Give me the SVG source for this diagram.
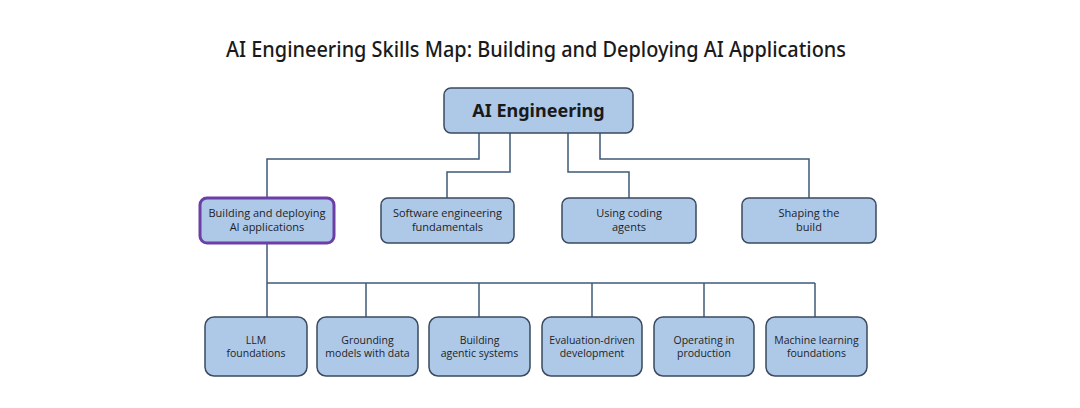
<svg xmlns="http://www.w3.org/2000/svg" width="1080" height="408" viewBox="0 0 1080 408">
<style>
.box{fill:#aec8e8;stroke:#3b4a5e;stroke-width:1.5}
.sel{fill:#aec8e8;stroke:#6b3fa6;stroke-width:3}
.t{font-family:"Open Sans","Noto Sans",sans-serif;font-size:11px;fill:#1f1f1f;text-anchor:middle}
.s{font-family:"Open Sans","Noto Sans",sans-serif;font-size:10.5px;fill:#1f1f1f;text-anchor:middle}
.c{fill:none;stroke:#3e5a78;stroke-width:1.5}
</style>
<rect width="1080" height="408" fill="#ffffff"/>
<text x="536" y="57" font-family="'Noto Sans',sans-serif" font-weight="500" font-size="21" fill="#1a1a1a" text-anchor="middle" textLength="620" lengthAdjust="spacingAndGlyphs">AI Engineering Skills Map: Building and Deploying AI Applications</text>
<g id="connectors">
<path class="c" d="M479 133V159H267V198"/>
<path class="c" d="M510 133V172H447V198"/>
<path class="c" d="M568 133V172H629V198"/>
<path class="c" d="M600 133V159H809V198"/>
<path class="c" d="M267 243V317"/>
<path class="c" d="M267 283H815"/>
<path class="c" d="M366 283V317"/>
<path class="c" d="M479 283V317"/>
<path class="c" d="M592 283V317"/>
<path class="c" d="M704 283V317"/>
<path class="c" d="M815 283V317"/>
</g>
<g id="ai-engineering">
<rect class="box" x="444" y="88" width="189" height="45" rx="7"/>
<text x="538.5" y="117" font-family="'Noto Sans',sans-serif" font-weight="bold" font-size="18" fill="#1a1a1a" text-anchor="middle">AI Engineering</text>
</g>
<g id="building-deploying">
<rect class="sel" x="200" y="198" width="134" height="45" rx="7"/>
<text class="t" x="267" y="217">Building and deploying</text>
<text class="t" x="267" y="231">AI applications</text>
</g>
<g id="software-eng">
<rect class="box" x="381" y="198" width="133" height="45" rx="7"/>
<text class="t" x="447.5" y="217">Software engineering</text>
<text class="t" x="447.5" y="231">fundamentals</text>
</g>
<g id="coding-agents">
<rect class="box" x="562" y="198" width="134" height="45" rx="7"/>
<text class="t" x="629" y="217">Using coding</text>
<text class="t" x="629" y="231">agents</text>
</g>
<g id="shaping">
<rect class="box" x="742" y="198" width="134" height="45" rx="7"/>
<text class="t" x="809" y="217">Shaping the</text>
<text class="t" x="809" y="231">build</text>
</g>
<g id="llm">
<rect class="box" x="205" y="317" width="102" height="59" rx="9"/>
<text class="s" x="256" y="344">LLM</text>
<text class="s" x="256" y="357">foundations</text>
</g>
<g id="grounding">
<rect class="box" x="317" y="317" width="101" height="59" rx="9"/>
<text class="s" x="367.5" y="344">Grounding</text>
<text class="s" x="367.5" y="357">models with data</text>
</g>
<g id="agentic">
<rect class="box" x="429" y="317" width="101" height="59" rx="9"/>
<text class="s" x="479.5" y="344">Building</text>
<text class="s" x="479.5" y="357">agentic systems</text>
</g>
<g id="evaluation">
<rect class="box" x="542" y="317" width="100" height="59" rx="9"/>
<text class="s" x="592" y="344">Evaluation-driven</text>
<text class="s" x="592" y="357">development</text>
</g>
<g id="operating">
<rect class="box" x="654" y="317" width="100" height="59" rx="9"/>
<text class="s" x="704" y="344">Operating in</text>
<text class="s" x="704" y="357">production</text>
</g>
<g id="ml">
<rect class="box" x="766" y="317" width="101" height="59" rx="9"/>
<text class="s" x="816.5" y="344">Machine learning</text>
<text class="s" x="816.5" y="357">foundations</text>
</g>
</svg>
